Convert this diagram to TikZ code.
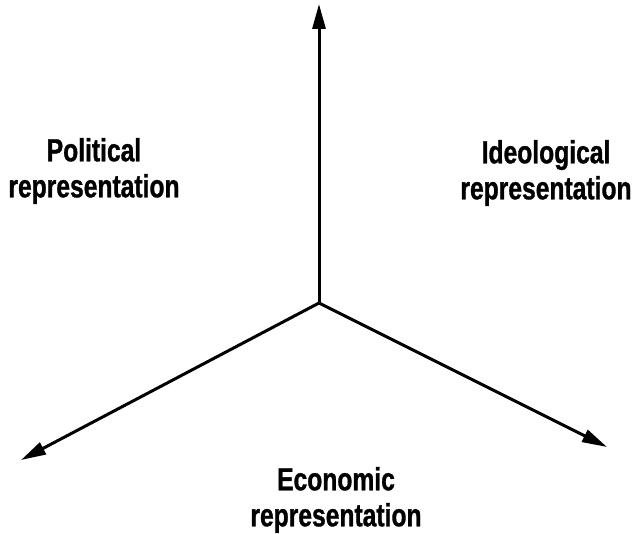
\documentclass[tikz,border=0pt]{standalone}
\usepackage{fontspec}
\setmainfont{Liberation Sans}[FakeStretch=0.77,FakeBold=1]
\usetikzlibrary{arrows.meta}
\begin{document}
\begin{tikzpicture}[x=1pt,y=-1pt,
  >={Triangle[length=25pt,width=13pt]},
  axis/.style={line width=3pt, line join=miter},
  lbl/.style={align=center, font=\fontsize{32}{36}\selectfont\bfseries, inner sep=0pt}]
\useasboundingbox (0,0) rectangle (636,534);
% origin and the three axis ends
\coordinate (o) at (319,303);
\coordinate (up) at (319,4);
\coordinate (lt) at (21,460);
\coordinate (rt) at (607,447);
% axes
\draw[axis, ->] (o) -- (up);
\draw[axis, <->] (lt) -- (o) -- (rt);
% labels
\node[lbl] (pol) at (94,171) {Political\\representation};
\node[lbl] (ideo) at (546,173) {Ideological\\representation};
\node[lbl] (econ) at (336,500) {Economic\\representation};
\end{tikzpicture}
\end{document}
